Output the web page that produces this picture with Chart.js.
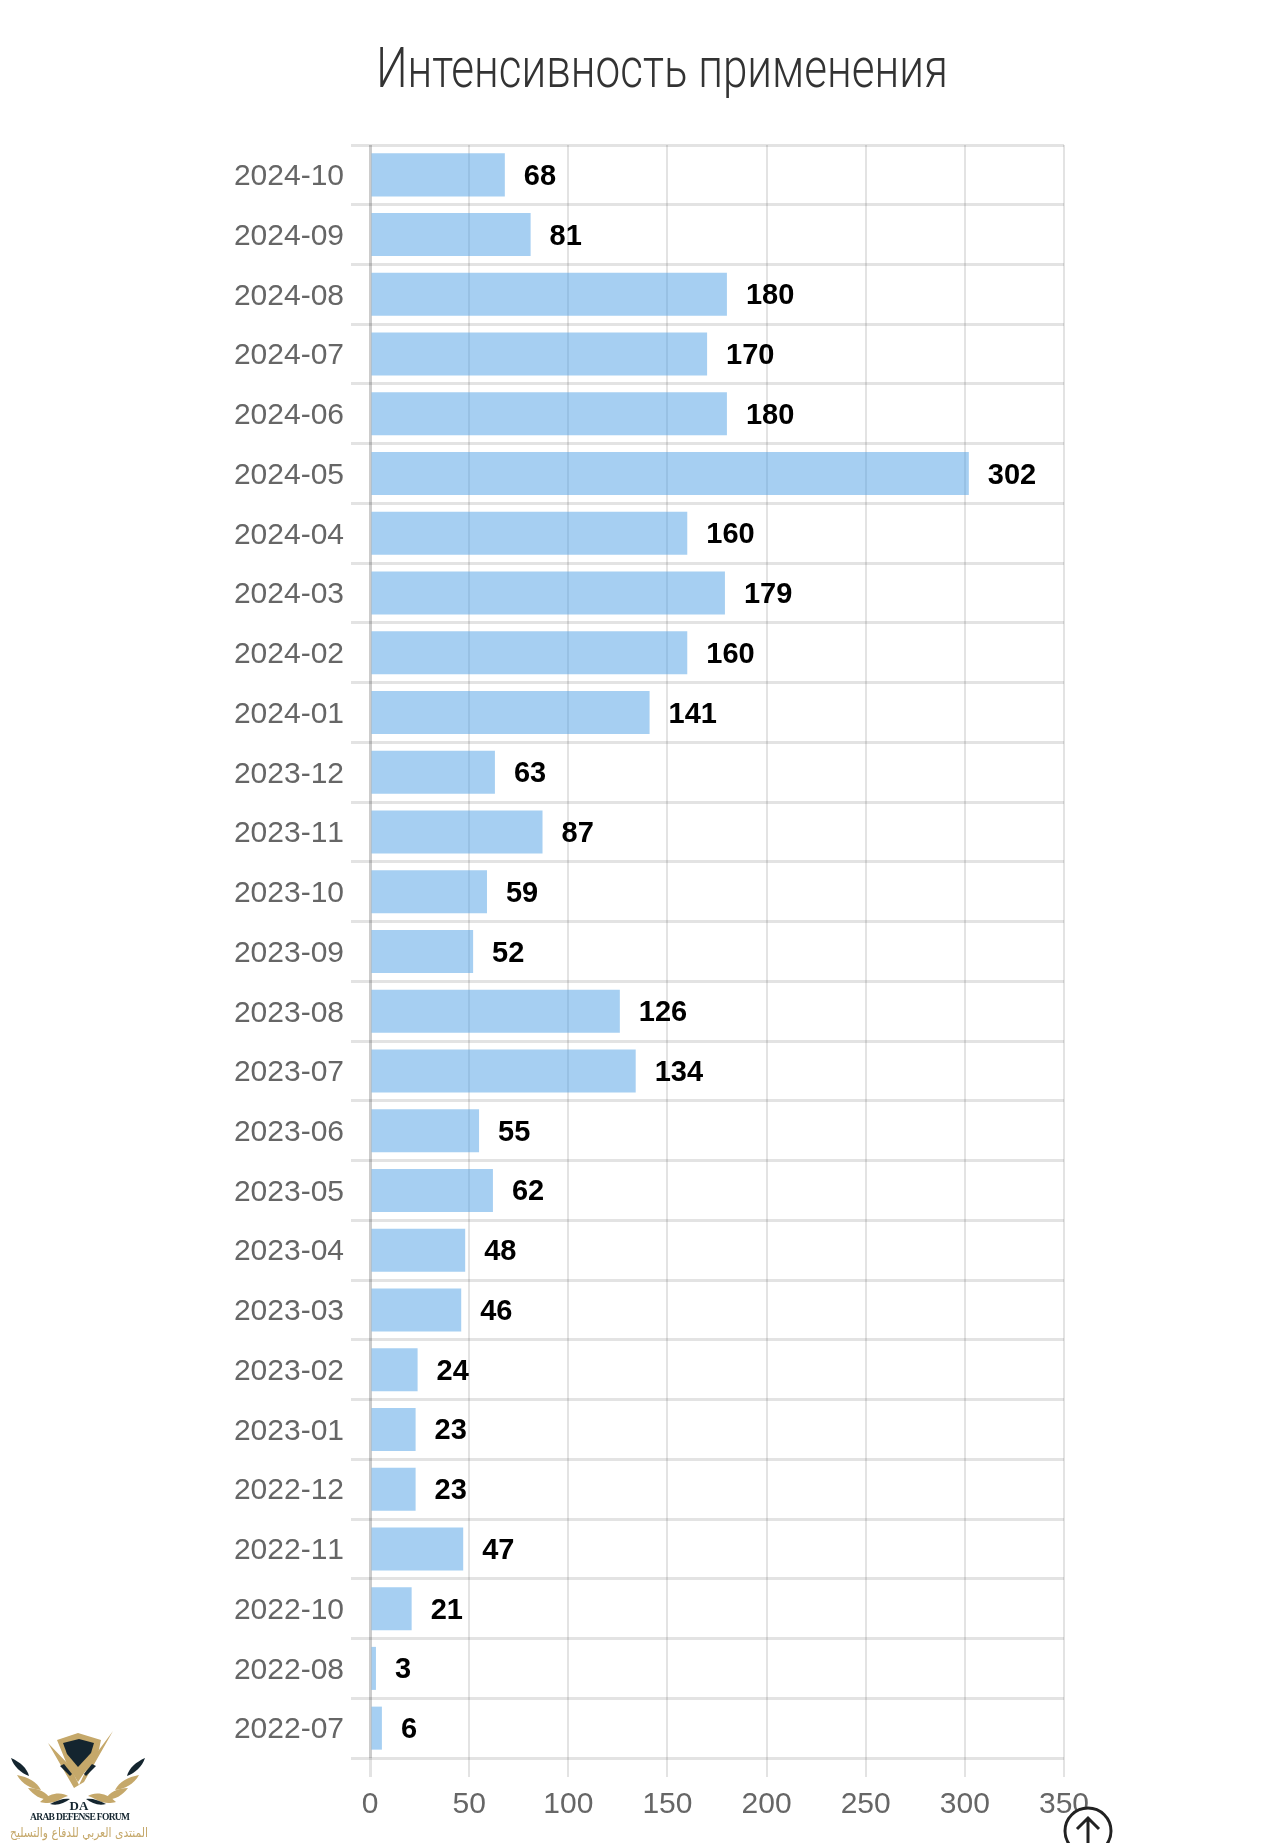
<!DOCTYPE html>
<html lang="ru">
<head>
<meta charset="utf-8">
<title>Интенсивность применения</title>
<script src="https://cdn.jsdelivr.net/npm/chart.js@4"></script>
<style>
    html, body { margin: 0; padding: 0; background: #fff; overflow: hidden; }
    #wrap { position: relative; width: 1284px; height: 1843px; overflow: hidden; }
    #chart { position: absolute; left: 0; top: 0; }
    #title {
        position: absolute; left: 262px; top: 36px; width: 800px; text-align: center;
        font: 300 55px "Roboto", sans-serif; color: #333; white-space: nowrap;
        transform: scaleX(0.8); transform-origin: center;
    }
    #logo { position: absolute; left: 0; top: 1720px; }
    #up { position: absolute; left: 1060px; top: 1803px; }
</style>
</head>
<body>
<div id="wrap">
    <canvas id="chart" width="1284" height="1843"></canvas>
    <div id="title">Интенсивность применения</div>

    <!-- forum watermark, bottom left -->
    <svg id="logo" width="170" height="123" viewBox="0 0 170 123">
        <path d="M57 20 L78 13 L101 20 L98 34 L82 56 L78 62 L66 42 Z" fill="#c5a86a"/>
        <path d="M63 23 L79 19 L94 23 L91 33 L78 47 L67 34 Z" fill="#14252f"/>
        <path d="M113 11 L90 42 L79 65 L70 46 L48 23 L74 68 L84 62 Z" fill="#c5a86a"/>
        <path d="M60 46 L70 56 L72 54 L64 44 Z" fill="#14252f"/>
        <path d="M96 46 L86 56 L84 54 L92 44 Z" fill="#14252f"/>
        <path d="M11 38 C20 42 27 48 29 56 C21 53 14 47 11 38 Z" fill="#14252f"/>
        <path d="M145 38 C136 42 129 48 127 56 C135 53 142 47 145 38 Z" fill="#14252f"/>
        <path d="M17 55 C28 57 37 62 41 70 C31 69 22 64 17 55 Z" fill="#c5a86a"/>
        <path d="M139 55 C128 57 119 62 115 70 C125 69 134 64 139 55 Z" fill="#c5a86a"/>
        <path d="M28 68 C38 68 47 72 51 80 C41 80 33 75 28 68 Z" fill="#c5a86a"/>
        <path d="M128 68 C118 68 109 72 105 80 C115 80 123 75 128 68 Z" fill="#c5a86a"/>
        <path d="M40 82 C50 72 62 72 68 76 C60 78 54 86 40 82 Z" fill="#c5a86a"/>
        <path d="M116 82 C106 72 94 72 88 76 C96 78 102 86 116 82 Z" fill="#c5a86a"/>
        <path d="M50 84 C58 80 64 78 70 79 C64 83 58 86 50 84 Z" fill="#14252f"/>
        <path d="M106 84 C98 80 92 78 86 79 C92 83 98 86 106 84 Z" fill="#14252f"/>
        <text x="79" y="90" text-anchor="middle" font-family="Liberation Serif" font-weight="bold" font-size="13" fill="#14252f">DA</text>
        <text x="80" y="100" text-anchor="middle" font-family="Liberation Serif" font-weight="bold" font-size="9.5" fill="#14252f" textLength="100" lengthAdjust="spacing">ARAB DEFENSE FORUM</text>
        <text x="79" y="117" text-anchor="middle" direction="rtl" font-family="DejaVu Sans" font-size="13" fill="#c5a86a" textLength="138" lengthAdjust="spacingAndGlyphs">المنتدى العربي للدفاع والتسليح</text>
    </svg>

    <!-- back to top button -->
    <svg id="up" width="60" height="40" viewBox="0 0 60 40">
        <circle cx="28" cy="28" r="23" fill="#fff" stroke="#222" stroke-width="3"/>
        <path d="M28 40 V15 M17 26 L28 15 L39 26" fill="none" stroke="#222" stroke-width="3"/>
    </svg>
</div>

<script>
    const months = ['2024-10', '2024-09', '2024-08', '2024-07', '2024-06', '2024-05', '2024-04', '2024-03', '2024-02',
        '2024-01', '2023-12', '2023-11', '2023-10', '2023-09', '2023-08', '2023-07', '2023-06', '2023-05', '2023-04',
        '2023-03', '2023-02', '2023-01', '2022-12', '2022-11', '2022-10', '2022-08', '2022-07'];
    const usage = [68, 81, 180, 170, 180, 302, 160, 179, 160, 141, 63, 87, 59, 52, 126, 134, 55, 62, 48, 46, 24, 23, 23, 47, 21, 3, 6];
    const valueTicks = [0, 50, 100, 150, 200, 250, 300, 350];

    // Chart.js has no value labels of its own, so write them next to the bars
    const barLabels = {
        id: 'barLabels',
        // the "11" pairs should not tighten up in the month labels
        beforeDraw(chart) {
            chart.ctx.fontKerning = 'none';
        },
        afterDatasetsDraw(chart) {
            const ctx = chart.ctx;
            const bars = chart.getDatasetMeta(0).data;
            ctx.save();
            ctx.font = 'bold 29px "Liberation Sans"';
            ctx.fillStyle = '#000';
            ctx.textAlign = 'left';
            ctx.textBaseline = 'middle';
            bars.forEach(function(bar, i) {
                ctx.fillText(usage[i], bar.x + 19, bar.y + 2);
            });
            ctx.restore();
        }
    };

    new Chart(document.getElementById('chart').getContext('2d'), {
        type: 'bar',
        data: {
            labels: months,
            datasets: [{
                data: usage,
                backgroundColor: 'rgba(77, 160, 230, 0.5)',
                borderWidth: 0,
                categoryPercentage: 0.72,
                barPercentage: 1
            }]
        },
        options: {
            indexAxis: 'y',
            responsive: false,
            animation: false,
            layout: { padding: { top: 145, right: 220, bottom: 0, left: 0 } },
            plugins: {
                legend: { display: false },
                title: { display: false },
                tooltip: { enabled: false }
            },
            scales: {
                x: {
                    type: 'linear',
                    min: 0,
                    max: 350,
                    afterBuildTicks(axis) {
                        axis.ticks = valueTicks.map(v => ({ value: v }));
                    },
                    afterFit(axis) { axis.height = 85; },
                    border: { display: false },
                    grid: {
                        color: ctx => ctx.index === 0 ? 'rgba(0, 0, 0, 0.2)' : 'rgba(0, 0, 0, 0.11)',
                        tickColor: 'rgba(0, 0, 0, 0.11)',
                        lineWidth: ctx => ctx.index === 0 ? 3 : 2,
                        tickLength: 19
                    },
                    ticks: {
                        color: '#666',
                        padding: 10,
                        maxRotation: 0,
                        font: { family: '"Liberation Sans"', size: 30 }
                    }
                },
                y: {
                    afterFit(axis) { axis.width = 370; },
                    border: { display: false },
                    grid: {
                        color: ctx => ctx.index === months.length ? 'rgba(0, 0, 0, 0.2)' : 'rgba(0, 0, 0, 0.11)',
                        tickColor: 'rgba(0, 0, 0, 0.11)',
                        lineWidth: 3,
                        tickLength: 19
                    },
                    ticks: {
                        color: '#666',
                        padding: 7,
                        autoSkip: false,
                        labelOffset: 2,
                        font: { family: '"Liberation Sans"', size: 30 }
                    }
                }
            }
        },
        plugins: [barLabels]
    });
</script>
</body>
</html>
